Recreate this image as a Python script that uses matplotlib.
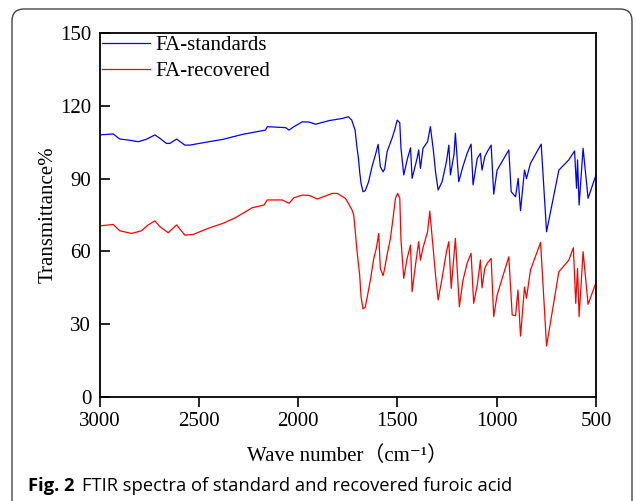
import matplotlib
matplotlib.use("Agg")
import matplotlib.pyplot as plt
from matplotlib.patches import FancyBboxPatch

# ---- data ----
std_wn = [3000, 2931, 2898, 2856, 2805, 2764, 2721, 2696, 2663, 2646, 2612, 2570, 2545,
          2470, 2377, 2281, 2164, 2155, 2063, 2046, 2021, 1979, 1945, 1912, 1844, 1777,
          1747, 1730, 1713, 1704, 1696, 1690, 1683, 1673, 1662, 1645, 1628, 1611, 1597,
          1586, 1572, 1564, 1552, 1527, 1514, 1501, 1488, 1482, 1468, 1451, 1434, 1426,
          1401, 1393, 1384, 1371, 1348, 1334, 1320, 1308, 1295, 1275, 1253, 1241,
          1233, 1215, 1208, 1191, 1170, 1149, 1129, 1119, 1098, 1082, 1074,
          1060, 1048, 1028, 1015, 998, 939, 927, 905, 892, 880, 860, 850, 830, 776,
          749, 687, 637, 608, 598, 593, 585, 565, 540, 500]
std_t = [108.0, 108.4, 106.3, 105.9, 105.2, 106.2, 108.0, 106.6, 104.5, 104.5, 106.3, 103.8, 103.8,
         104.9, 106.2, 108.2, 110.0, 111.4, 111.0, 110.0, 111.4, 113.4, 113.3, 112.4, 113.9, 114.8,
         115.5, 114.1, 110.0, 103.1, 98.3, 92.8, 88.0, 84.6, 85.0, 88.7, 94.9, 99.7, 104.1,
         94.9, 92.8, 94.0, 101.1, 106.6, 110.0, 114.1, 113.0, 102.5, 91.5, 97.7, 102.7, 90.1,
         98.3, 101.8, 94.2, 102.5, 105.2, 111.4, 102.5, 92.8, 85.3, 88.7, 97.0, 103.8,
         91.5, 100.0, 108.7, 88.7, 95.0, 100.4, 104.2, 87.4, 98.3, 100.4, 93.5,
         99.0, 101.0, 103.8, 83.6, 93.5, 101.8, 84.6, 82.5, 90.1, 76.8, 93.5, 90.0, 96.3, 104.2,
         68.1, 93.5, 97.7, 101.4, 86.0, 97.7, 79.1, 102.5, 81.9, 91.5]

rec_wn = [3000, 2931, 2898, 2839, 2789, 2755, 2721, 2696, 2654, 2612, 2570, 2528, 2453,
          2377, 2315, 2231, 2172, 2155, 2079, 2046, 2021, 1979, 1945, 1903, 1828, 1803,
          1761, 1744, 1728, 1720, 1712, 1703, 1690, 1683, 1673, 1662, 1653, 1636, 1619,
          1606, 1594, 1586, 1572, 1564, 1552, 1535, 1522, 1510, 1499, 1488, 1482, 1468,
          1451, 1434, 1426, 1409, 1393, 1384, 1371, 1348, 1337, 1320, 1308, 1295, 1275,
          1253, 1241, 1229, 1208, 1188, 1170, 1149, 1129, 1116, 1098, 1082, 1074,
          1060, 1048, 1028, 1015, 998, 939, 922, 905, 893, 880, 860, 850, 830, 779,
          749, 687, 637, 614, 602, 593, 585, 565, 540, 500]
rec_t = [70.5, 71.1, 68.5, 67.4, 68.5, 70.9, 72.6, 70.2, 67.7, 70.9, 66.7, 67.0, 69.5,
         71.6, 73.9, 78.0, 79.1, 81.2, 81.2, 79.8, 82.1, 83.2, 83.1, 81.6, 83.9, 83.9,
         81.8, 79.4, 77.0, 75.0, 68.1, 59.9, 50.3, 41.3, 36.3, 37.0, 40.7, 48.2, 57.1,
         61.3, 67.4, 53.0, 50.0, 53.0, 58.5, 65.4, 73.6, 81.8, 83.9, 82.0, 64.7, 48.9,
         57.1, 62.6, 43.4, 54.4, 64.0, 56.4, 61.5, 68.1, 76.6, 61.3, 50.3, 40.0, 48.9,
         59.9, 64.0, 44.8, 65.4, 37.2, 48.0, 55.1, 59.2, 38.6, 46.0, 56.4, 45.0,
         53.0, 55.1, 57.1, 33.1, 42.0, 57.8, 33.8, 33.5, 44.1, 25.1, 45.3, 40.7, 52.3, 63.7,
         21.0, 51.6, 56.4, 61.5, 38.6, 53.0, 33.1, 59.9, 38.2, 47.1]

series_names = ["FA-standards", "FA-recovered"]
y_ticks = [0, 30, 60, 90, 120, 150]
x_ticks = [3000, 2500, 2000, 1500, 1000, 500]

serif = ["Liberation Serif", "DejaVu Serif", "Noto Sans CJK SC"]

fig = plt.figure(figsize=(6.36, 5.01), dpi=100)
ax = fig.add_axes([99.5 / 636, 1 - 397 / 501, (596 - 99.5) / 636, (397 - 33) / 501])

ax.plot(std_wn, std_t, color="#0000ff", lw=0.9, label=series_names[0])
ax.plot(rec_wn, rec_t, color="#ff0000", lw=0.9, label=series_names[1])

ax.set_xlim(3000, 500)
ax.set_ylim(0, 150)
ax.set_xticks(x_ticks)
ax.set_yticks(y_ticks)
ax.tick_params(axis="x", direction="out", length=7, width=1.2, pad=4)
ax.tick_params(axis="y", direction="in", length=7, width=1.2, pad=6)
for lab in ax.get_xticklabels() + ax.get_yticklabels():
    lab.set_fontfamily(serif)
    lab.set_fontsize(15)
for sp in ax.spines.values():
    sp.set_linewidth(1.3)

ax.set_xlabel("Wave number（cm⁻¹）", fontsize=15, family=serif, labelpad=11)
ax.set_ylabel("Transmittance%", fontsize=15, family=serif, labelpad=2)

leg = ax.legend(loc="upper left", frameon=False, prop={"family": serif, "size": 15},
                borderaxespad=0, borderpad=0.12, handlelength=2.3, handletextpad=0.25,
                labelspacing=0.3)

# figure border
border = FancyBboxPatch((12, -20), 620, 512, boxstyle="round,pad=0,rounding_size=12",
                        transform=None, fill=False, edgecolor="#444444", lw=1.0)
fig.patches.append(border)

fig.text(28 / 636, 1 - 486 / 501, "Fig. 2", fontsize=13.2, fontweight="bold",
         family=["Open Sans", "DejaVu Sans"], va="center", ha="left")
fig.text(82 / 636, 1 - 486 / 501, "FTIR spectra of standard and recovered furoic acid",
         fontsize=13.2, family=["Open Sans", "DejaVu Sans"], va="center", ha="left")

fig.savefig("out.png", dpi=100)
